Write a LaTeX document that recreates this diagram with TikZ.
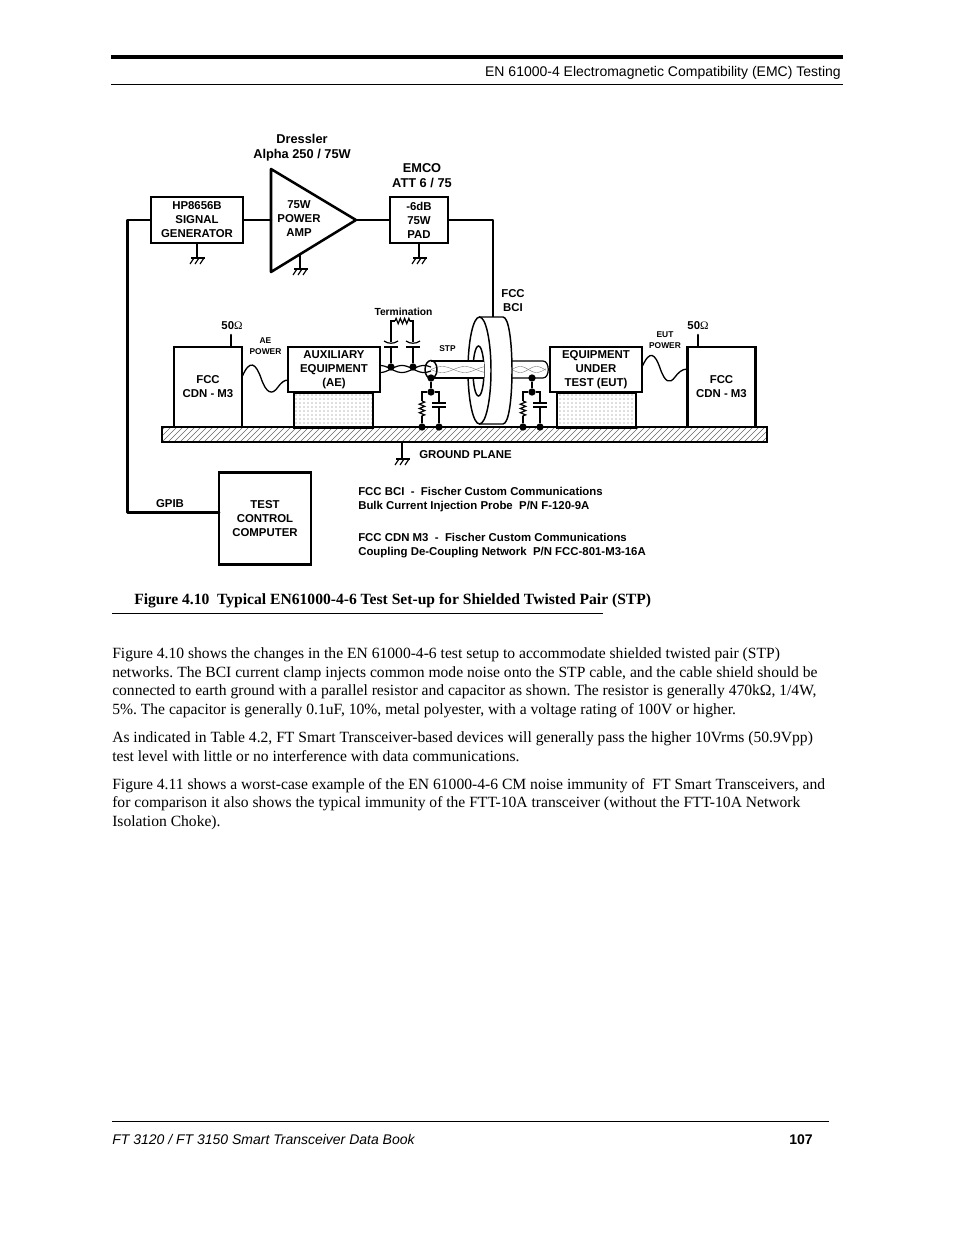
\documentclass[tikz,border=0pt]{standalone}
\usepackage{fontspec}
\setmainfont{Liberation Serif}
\setsansfont{Liberation Sans}
\usetikzlibrary{positioning, patterns, decorations.pathmorphing}
\newcommand{\labelfont}{\sffamily\bfseries\fontsize{8.55}{10.5}\selectfont}
\newcommand{\headfont}{\sffamily\bfseries\fontsize{9.6}{11.2}\selectfont}
\newcommand{\smallfont}{\sffamily\bfseries\fontsize{6.3}{8.2}\selectfont}
\newcommand{\bodyfont}{\rmfamily\fontsize{11.7}{14}\selectfont}
\frenchspacing

\begin{document}
\begin{tikzpicture}[
        x=0.75pt, y=-0.75pt,
        wire/.style={line width=1.9pt, line cap=round, line join=round},
        thinwire/.style={line width=0.9pt},
        rule/.style={line width=0.5pt},
        box/.style={draw, line width=1.9pt, fill=white, align=center, inner sep=0pt,
                    font=\labelfont},
        txt/.style={align=center, inner sep=0pt, font=\labelfont},
        head/.style={align=center, inner sep=0pt, font=\headfont},
        tiny/.style={align=center, inner sep=0pt, font=\smallfont},
        note/.style={align=left, anchor=west, inner sep=0pt, font=\labelfont},
        para/.style={align=left, anchor=north west, inner sep=0pt, font=\bodyfont},
        stand/.style={draw, line width=1.9pt, pattern=dots, pattern color=black!55},
        dot/.style={circle, fill=black, inner sep=0pt, minimum size=5.5pt},
        zig/.style={thinwire, decorate, decoration={zigzag, amplitude=2pt, segment length=3.2pt}},
        gnd/.pic={
          \draw[thinwire] (-6,0) -- (8,0);
          \foreach \i in {-5,0,5} \draw[thinwire] (\i+2,0) -- (\i-2,6);
        },
        cap/.pic={
          \draw[thinwire] (-7,0) -- (7,0) (-7,-4) -- (7,-4);
        },
        bentcap/.pic={
          \draw[thinwire] (-7,0) -- (7,0);
          \draw[thinwire] (-7,-6) .. controls (-3,-3) and (3,-3) .. (7,-6);
        }
      ]
        \useasboundingbox (0,0) rectangle (954,1235);

        \draw[line width=2.4pt] (111,57) -- (843,57);
        \node[anchor=east, inner sep=0pt, font=\sffamily\fontsize{10.5}{12}\selectfont] (header) at (841,73)
          {EN 61000-4 Electromagnetic Compatibility (EMC) Testing};
        \draw[rule] (111,84) -- (843,84);

        \node[head] (dressler) at (302,148) {Dressler\\Alpha 250 / 75W};
        \node[head] (emco) at (422,175.5) {EMCO\\ATT 6 / 75};

        \node[box, minimum width=69pt, minimum height=34.5pt] (hp) at (197,220)
          {HP8656B\\SIGNAL\\GENERATOR};
        \node[box, minimum width=43.5pt, minimum height=34.5pt] (pad) at (419,220)
          {-6dB\\75W\\PAD};
        \node[box, minimum width=69pt, minimum height=69pt] (test) at (265,518.5)
          {TEST\\CONTROL\\COMPUTER};

        \coordinate (ampa) at (271,169);
        \coordinate (ampb) at (271,272);
        \coordinate (ampout) at (356,220);
        \coordinate (ampin) at (271,220);
        \coordinate (ampgnd) at (300,254);
        \coordinate (clamptop) at (493,317);
        \coordinate (testin) at (219,512.5);
        \draw[wire] (ampa) -- (ampout) -- (ampb) -- cycle;
        \node[txt] (amplabel) at (299,219) {75W\\POWER\\AMP};

        \draw[wire] (hp.east) -- (ampin);
        \draw[wire] (ampout) -- (pad.west);
        \draw[wire] (pad.east) -| (clamptop);
        \draw[wire] (hp.west) -- ++(-22,0) |- (testin);

        \coordinate (gnda) at (197,258);
        \coordinate (gndb) at (300,269);
        \coordinate (gndc) at (419,258);
        \draw[thinwire] (hp.south) -- (gnda);
        \draw[thinwire] (ampgnd) -- (gndb);
        \draw[thinwire] (pad.south) -- (gndc);
        \pic at (gnda) {gnd};
        \pic at (gndb) {gnd};
        \pic at (gndc) {gnd};

        \node[txt] (gpib) at (170,504) {GPIB};

        \begin{scope}
          \clip (162,427) rectangle (767,442);
          \foreach \i in {150,156,...,770} \draw[black!60, line width=0.4pt] (\i,442) -- (\i+15,427);
        \end{scope}
        \node[draw, line width=1.9pt, minimum width=453.75pt, minimum height=11.25pt,
              inner sep=0pt] (plane) at (464.5,434.5) {};
        \node[stand, minimum width=59pt, minimum height=26pt, inner sep=0pt] (aestand) at (333.5,410) {};
        \node[stand, minimum width=59pt, minimum height=26pt, inner sep=0pt] (eutstand) at (596.5,410) {};

        \node[box, minimum width=51pt, minimum height=60pt] (cdnl) at (208,387) {FCC\\CDN - M3};
        \node[box, minimum width=51pt, minimum height=60pt] (cdnr) at (721.5,387) {FCC\\CDN - M3};
        \node[box, minimum width=69pt, minimum height=34pt] (ae) at (334,369.5)
          {AUXILIARY\\EQUIPMENT\\(AE)};
        \node[box, minimum width=69pt, minimum height=34pt] (eut) at (596,369.5)
          {EQUIPMENT\\UNDER\\TEST (EUT)};

        \node[txt] (ohml) at (232,326) {50{\rmfamily\mdseries Ω}};
        \node[txt] (ohmr) at (698,326) {50{\rmfamily\mdseries Ω}};
        \coordinate (ohmlend) at (231,335);
        \coordinate (ohmrend) at (698,335);
        \draw[wire] (ohmlend) -- (ohmlend |- cdnl.north);
        \draw[wire] (ohmrend) -- (ohmrend |- cdnr.north);

        \node[tiny] (aepower) at (265.5,346.5) {AE\\POWER};
        \node[tiny] (eutpower) at (665,340.5) {EUT\\POWER};
        \coordinate (aewl) at (242,377);
        \coordinate (aewr) at (288,380);
        \coordinate (eutwl) at (642,367);
        \coordinate (eutwr) at (687,369);
        \draw[line width=1pt] (aewl) .. controls (250,358) and (256,364) .. (261,378)
          .. controls (266,393) and (272,396) .. (278,387) .. controls (281,383) and (284,380) .. (aewr);
        \draw[line width=1pt] (eutwl) .. controls (650,349) and (655,354) .. (660,368)
          .. controls (665,383) and (670,384) .. (675,377) .. controls (678,373) and (682,369) .. (eutwr);

        \draw[thinwire, fill=white] (512,361) -- (543,361)
          .. controls (550,361) and (550,378) .. (543,378) -- (512,378);
        \draw[black!55, line width=0.3pt, domain=512:546, samples=50] plot (\x,{369.5+3*sin((\x-512)*11)});
        \draw[black!55, line width=0.3pt, domain=512:546, samples=50] plot (\x,{369.5-3*sin((\x-512)*11)});

        \coordinate (clampa) at (479,317);
        \coordinate (clampb) at (503,317);
        \coordinate (clampc) at (503,424);
        \coordinate (clampd) at (479,424);
        \draw[line width=1.1pt, fill=white] (clampa) -- (clampb)
          .. controls (515,317) and (515,424) .. (clampc) -- (clampd);
        \draw[line width=1.1pt, fill=white] (479.5,370.5) ellipse (11.5 and 53.5);
        \draw[line width=1.1pt, fill=white] (478.5,371) ellipse (5.5 and 25);

        \fill[white] (431,361) rectangle (484,378);
        \draw[thinwire] (431,361) -- (484,361) (431,378) -- (484,378);
        \draw[black!55, line width=0.3pt, domain=431:484, samples=70] plot (\x,{369.5+3*sin((\x-431)*8)});
        \draw[black!55, line width=0.3pt, domain=431:484, samples=70] plot (\x,{369.5-3*sin((\x-431)*8)});
        \draw[line width=1.1pt] (431,369.5) ellipse (6 and 9);

        \draw[thinwire, domain=380:431, samples=70] plot (\x,{369+3.5*sin((\x-391)*8.2)});
        \draw[thinwire, domain=380:431, samples=70] plot (\x,{369-3.5*sin((\x-391)*8.2)});

        \node[dot] (twa) at (391,367) {};
        \node[dot] (twb) at (413,367) {};
        \node[tiny, font=\sffamily\bfseries\fontsize{7.7}{9}\selectfont] (termlabel) at (403.5,312) {Termination};
        \coordinate (termtl) at (391,321);
        \coordinate (termtr) at (413,321);
        \coordinate (zigl) at (395,321);
        \coordinate (zigr) at (410,321);
        \draw[thinwire] (twa) -- (391,347) (391,342) -- (termtl) -- (zigl);
        \draw[thinwire] (twb) -- (413,347) (413,342) -- (termtr) -- (zigr);
        \draw[zig] (zigl) -- (zigr);
        \pic at (391,347) {bentcap};
        \pic at (413,347) {bentcap};
        \node[tiny] (stp) at (447.5,348.5) {STP};
        \node[txt] (bci) at (513,300.5) {FCC\\BCI};

        \foreach \nm/\xa/\xb/\xc in {l/431/422/439, r/532/523/540} {
          \node[dot] (sh\nm) at (\xa,378) {};
          \node[dot] (jn\nm) at (\xa,392) {};
          \node[dot] (ra\nm) at (\xb,427) {};
          \node[dot] (ca\nm) at (\xc,427) {};
          \coordinate (rt\nm) at (\xb,392);
          \coordinate (ct\nm) at (\xc,392);
          \coordinate (zt\nm) at (\xb,401);
          \coordinate (zb\nm) at (\xb,416);
          \draw[thinwire] (sh\nm) -- (jn\nm);
          \draw[thinwire] (jn\nm) -- (rt\nm) -- (zt\nm);
          \draw[zig] (zt\nm) -- (zb\nm);
          \draw[thinwire] (zb\nm) -- (ra\nm);
          \draw[thinwire] (jn\nm) -- (ct\nm) -- (\xc,403) (\xc,407) -- (ca\nm);
          \pic at (\xc,407) {cap};
        }

        \coordinate (gndp) at (402,459);
        \draw[thinwire] (plane.south -| gndp) -- (gndp);
        \pic at (gndp) {gnd};
        \node[note] (gplabel) at (419,455) {GROUND PLANE};

        \node[note] (bcinote) at (358,499.5) {FCC BCI~~-~~Fischer Custom Communications\\Bulk Current Injection Probe~~P/N F-120-9A};
        \node[note] (cdnnote) at (358,545.5) {FCC CDN M3~~-~~Fischer Custom Communications\\Coupling De-Coupling Network~~P/N FCC-801-M3-16A};

        \node[anchor=west, inner sep=0pt, font=\rmfamily\bfseries\fontsize{11.7}{14}\selectfont] (caption) at (134,601)
          {Figure 4.10~~Typical EN61000-4-6 Test Set-up for Shielded Twisted Pair (STP)};
        \draw[rule] (112,613) -- (603,613);

        \node[para] (paraa) at (112,647.5) {Figure 4.10 shows the changes in the EN 61000-4-6 test setup to accommodate shielded twisted pair (STP)\\
          networks. The BCI current clamp injects common mode noise onto the STP cable, and the cable shield should be\\
          connected to earth ground with a parallel resistor and capacitor as shown. The resistor is generally 470kΩ, 1/4W,\\
          5\%. The capacitor is generally 0.1uF, 10\%, metal polyester, with a voltage rating of 100V or higher.};
        \node[para] (parab) at (112,731.5) {As indicated in Table 4.2, FT Smart Transceiver-based devices will generally pass the higher 10Vrms (50.9Vpp)\\
          test level with little or no interference with data communications.};
        \node[para] (parac) at (112,778) {Figure 4.11 shows a worst-case example of the EN 61000-4-6 CM noise immunity of~~FT Smart Transceivers, and\\
          for comparison it also shows the typical immunity of the FTT-10A transceiver (without the FTT-10A Network\\
          Isolation Choke).};

        \draw[rule] (112,1121) -- (829,1121);
        \node[anchor=base west, inner sep=0pt, font=\sffamily\itshape\fontsize{10.5}{12}\selectfont] (footer) at (112,1144)
          {FT 3120 / FT 3150 Smart Transceiver Data Book};
        \node[anchor=base east, inner sep=0pt, font=\sffamily\bfseries\fontsize{10.5}{12}\selectfont] (pageno) at (813,1144) {107};
      \end{tikzpicture}
\end{document}
